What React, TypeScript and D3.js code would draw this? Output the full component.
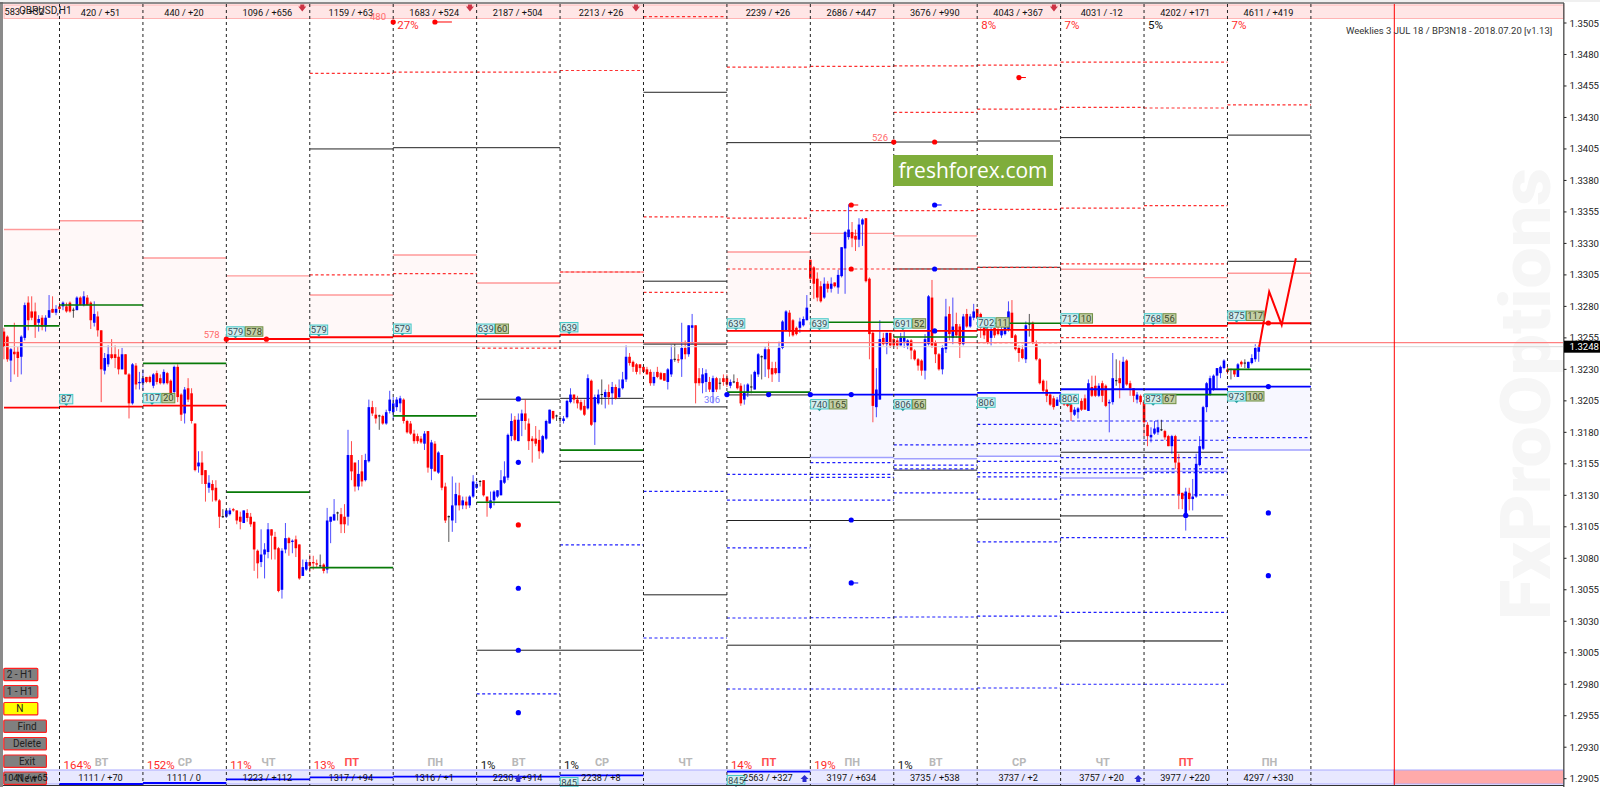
import React from "react";
import * as d3 from "d3";

// Candles per day, [open, high, low, close], price in 1/10000
const day00 = [[13260,13263,13238,13248],[13256,13257,13236,13238],[13237,13247,13220,13246],[13244,13267,13226,13242],[13244,13248,13224,13239],[13240,13257,13226,13256],[13255,13283,13253,13281],[13283,13288,13261,13269],[13276,13288,13269,13271],[13276,13283,13255,13265],[13267,13273,13260,13270],[13271,13273,13261,13264],[13264,13273,13260,13271],[13271,13289,13271,13277],[13278,13288,13275,13275],[13275,13281,13273,13278]];
const day01 = [[13280,13283,13277,13278],[13280,13284,13277,13283],[13280,13283,13275,13276],[13283,13284,13275,13276],[13277,13279,13271,13277],[13277,13288,13277,13287],[13287,13288,13281,13281],[13281,13292,13280,13288],[13287,13289,13281,13281],[13283,13284,13262,13269],[13267,13284,13264,13274],[13272,13276,13256,13261],[13261,13261,13204,13230],[13229,13243,13226,13239],[13234,13249,13232,13242],[13242,13254,13238,13239],[13242,13249,13231,13239],[13240,13246,13226,13230],[13230,13247,13230,13242],[13242,13242,13226,13226],[13226,13227,13191,13203],[13203,13235,13202,13234],[13233,13235,13214,13218],[13219,13228,13214,13220]];
const day02 = [[13219,13230,13213,13223],[13224,13224,13219,13220],[13224,13225,13219,13220],[13217,13227,13215,13226],[13227,13229,13218,13220],[13223,13226,13218,13219],[13219,13230,13218,13228],[13227,13228,13218,13219],[13221,13222,13207,13211],[13212,13233,13211,13232],[13232,13234,13204,13208],[13210,13211,13189,13194],[13195,13216,13187,13214],[13215,13223,13204,13206],[13211,13215,13187,13189],[13187,13187,13149,13150],[13153,13165,13148,13156],[13156,13165,13139,13146],[13150,13150,13125,13139],[13136,13146,13132,13140],[13139,13142,13125,13134],[13136,13142,13125,13126],[13126,13127,13104,13113],[13113,13119,13112,13113]];
const day03 = [[13113,13119,13112,13118],[13115,13120,13114,13118],[13119,13120,13117,13118],[13118,13118,13107,13110],[13113,13117,13103,13109],[13108,13118,13108,13118],[13116,13119,13109,13112],[13113,13116,13105,13107],[13109,13109,13070,13087],[13086,13087,13064,13076],[13077,13103,13073,13083],[13083,13092,13064,13087],[13085,13108,13080,13103],[13103,13103,13079,13098],[13097,13101,13079,13087],[13088,13089,13053,13054],[13055,13088,13048,13086],[13087,13108,13084,13096],[13096,13097,13082,13092],[13093,13095,13084,13094],[13095,13098,13081,13088],[13091,13091,13063,13064],[13066,13079,13066,13073],[13071,13079,13070,13077]];
const day04 = [[13077,13083,13069,13074],[13077,13082,13071,13076],[13076,13079,13073,13075],[13074,13083,13073,13074],[13075,13076,13068,13070],[13071,13120,13068,13110],[13109,13113,13092,13113],[13110,13127,13110,13115],[13116,13117,13110,13116],[13115,13120,13100,13107],[13113,13123,13100,13107],[13113,13182,13106,13162],[13162,13173,13142,13149],[13156,13156,13133,13137],[13137,13158,13134,13147],[13149,13162,13137,13141],[13142,13163,13141,13158],[13157,13206,13156,13200],[13200,13205,13193,13195],[13194,13200,13187,13191],[13193,13194,13182,13193],[13193,13194,13186,13187],[13187,13198,13186,13196],[13197,13213,13195,13206]];
const day05 = [[13196,13208,13190,13203],[13200,13208,13197,13206],[13203,13209,13196,13207],[13206,13207,13187,13189],[13189,13190,13179,13180],[13187,13189,13178,13179],[13179,13182,13171,13173],[13177,13179,13171,13173],[13175,13177,13171,13172],[13171,13181,13166,13179],[13181,13181,13148,13152],[13151,13174,13142,13172],[13171,13173,13149,13149],[13148,13165,13147,13164],[13162,13162,13134,13136],[13137,13140,13108,13110],[13113,13114,13093,13113],[13110,13145,13101,13122],[13122,13140,13108,13131],[13130,13140,13118,13122],[13122,13129,13119,13126],[13125,13129,13119,13122],[13122,13130,13120,13129],[13129,13146,13128,13141]];
const day06 = [[13136,13141,13135,13139],[13141,13142,13137,13141],[13142,13142,13129,13130],[13129,13129,13113,13125],[13120,13133,13119,13126],[13126,13134,13122,13133],[13129,13134,13128,13134],[13130,13150,13130,13142],[13140,13157,13139,13145],[13144,13179,13142,13178],[13177,13195,13173,13189],[13190,13193,13173,13174],[13173,13195,13173,13190],[13189,13198,13177,13195],[13195,13206,13182,13189],[13187,13191,13166,13173],[13175,13177,13156,13173],[13175,13185,13169,13171],[13174,13182,13159,13165],[13164,13178,13163,13177],[13175,13190,13174,13189],[13187,13198,13187,13198],[13197,13197,13190,13191],[13193,13194,13189,13193]];
const day07 = [[13191,13193,13187,13191],[13189,13193,13187,13191],[13192,13206,13191,13205],[13204,13215,13203,13210],[13210,13210,13203,13206],[13206,13209,13199,13203],[13204,13206,13197,13198],[13201,13206,13193,13194],[13199,13226,13198,13223],[13221,13222,13185,13186],[13188,13210,13170,13208],[13203,13214,13202,13210],[13210,13222,13202,13210],[13208,13214,13199,13212],[13212,13218,13202,13208],[13211,13220,13202,13216],[13216,13218,13206,13207],[13208,13222,13207,13215],[13215,13228,13214,13222],[13222,13249,13220,13240],[13240,13243,13233,13235],[13236,13237,13228,13232],[13234,13235,13226,13228],[13234,13234,13226,13231]];
const day08 = [[13232,13232,13227,13228],[13230,13232,13226,13226],[13228,13230,13217,13219],[13219,13228,13217,13224],[13228,13232,13223,13224],[13227,13228,13222,13222],[13227,13227,13221,13221],[13220,13231,13214,13230],[13226,13249,13224,13238],[13238,13250,13236,13238],[13238,13242,13235,13237],[13238,13267,13224,13247],[13247,13253,13238,13242],[13242,13265,13240,13265],[13263,13274,13250,13265],[13265,13265,13203,13219],[13223,13231,13217,13219],[13219,13231,13211,13226],[13220,13230,13212,13227],[13220,13224,13212,13214],[13212,13225,13203,13223],[13223,13224,13212,13214],[13219,13223,13214,13219],[13223,13226,13217,13220]];
const day09 = [[13223,13226,13216,13218],[13217,13222,13215,13220],[13220,13226,13219,13220],[13220,13223,13214,13215],[13217,13219,13201,13203],[13206,13218,13202,13212],[13211,13219,13208,13218],[13216,13226,13211,13216],[13214,13229,13214,13228],[13226,13243,13224,13242],[13240,13241,13222,13240],[13238,13248,13224,13246],[13246,13252,13223,13230],[13231,13236,13220,13226],[13231,13236,13226,13227],[13227,13252,13220,13247],[13247,13269,13246,13268],[13261,13277,13260,13276],[13275,13277,13256,13260],[13269,13270,13256,13257],[13263,13264,13257,13258],[13263,13271,13259,13268],[13265,13272,13264,13270],[13269,13289,13269,13279]];
const day10 = [[13317,13317,13300,13302],[13311,13312,13286,13298],[13302,13307,13284,13287],[13296,13300,13283,13284],[13287,13303,13286,13298],[13298,13300,13291,13294],[13294,13303,13291,13298],[13299,13299,13295,13296],[13295,13309,13290,13305],[13304,13327,13303,13327],[13326,13340,13290,13339],[13335,13361,13333,13341],[13339,13347,13327,13334],[13336,13341,13324,13333],[13333,13350,13327,13345],[13345,13350,13328,13349],[13350,13350,13299,13300],[13302,13303,13238,13258],[13259,13260,13188,13201],[13200,13231,13192,13214],[13206,13269,13206,13254],[13255,13259,13249,13250],[13250,13259,13242,13259],[13259,13259,13247,13249]];
const day11 = [[13254,13257,13248,13249],[13253,13255,13246,13249],[13249,13259,13249,13255],[13252,13260,13247,13255],[13249,13254,13246,13253],[13253,13254,13238,13245],[13245,13246,13237,13238],[13238,13239,13229,13233],[13237,13238,13225,13229],[13229,13258,13222,13254],[13250,13289,13249,13288],[13287,13301,13247,13249],[13251,13253,13235,13242],[13242,13243,13229,13230],[13230,13249,13226,13247],[13246,13286,13243,13272],[13274,13280,13253,13258],[13255,13287,13250,13264],[13266,13275,13255,13257],[13264,13266,13239,13250],[13250,13274,13249,13272],[13274,13278,13263,13264],[13264,13274,13263,13272],[13271,13282,13269,13276]];
const day12 = [[13278,13278,13270,13271],[13274,13275,13255,13263],[13266,13267,13254,13257],[13262,13264,13250,13251],[13255,13268,13249,13262],[13263,13268,13255,13257],[13262,13264,13257,13258],[13257,13266,13255,13262],[13258,13271,13257,13266],[13262,13284,13260,13276],[13275,13285,13255,13255],[13257,13258,13245,13246],[13247,13249,13236,13243],[13246,13249,13238,13239],[13238,13268,13235,13265],[13266,13274,13256,13266],[13267,13268,13250,13251],[13250,13253,13237,13238],[13238,13239,13218,13219],[13221,13222,13212,13213],[13214,13221,13204,13209],[13210,13211,13201,13202],[13207,13209,13198,13200],[13201,13208,13201,13206]];
const day13 = [[13204,13212,13203,13210],[13208,13209,13201,13202],[13206,13208,13200,13201],[13202,13204,13189,13196],[13194,13200,13193,13198],[13196,13200,13191,13199],[13205,13207,13197,13198],[13207,13210,13198,13198],[13197,13222,13197,13219],[13216,13225,13208,13209],[13217,13225,13208,13209],[13209,13219,13208,13217],[13219,13221,13204,13209],[13217,13218,13200,13201],[13203,13206,13180,13204],[13204,13243,13202,13223],[13221,13238,13217,13221],[13223,13237,13207,13219],[13215,13240,13214,13236],[13237,13238,13217,13218],[13219,13221,13209,13215],[13215,13215,13204,13209],[13206,13212,13203,13210],[13209,13210,13202,13204]];
const day14 = [[13204,13205,13177,13188],[13186,13188,13169,13177],[13176,13184,13172,13178],[13179,13189,13178,13183],[13180,13190,13178,13184],[13182,13190,13181,13182],[13181,13182,13174,13176],[13177,13178,13169,13169],[13169,13178,13163,13177],[13177,13178,13151,13156],[13156,13163,13119,13131],[13132,13132,13119,13127],[13115,13136,13102,13133],[13132,13136,13118,13127],[13127,13143,13118,13129],[13129,13163,13128,13155],[13154,13177,13153,13169],[13167,13201,13166,13200],[13200,13220,13196,13219],[13210,13225,13209,13223],[13214,13226,13213,13225],[13225,13231,13215,13231],[13227,13233,13223,13232],[13231,13238,13230,13237]];
const day15 = [[13230,13232,13226,13228],[13230,13230,13222,13230],[13230,13230,13224,13226],[13224,13235,13224,13234],[13236,13237,13232,13234],[13235,13238,13231,13235],[13231,13236,13230,13236],[13235,13242,13234,13239],[13238,13250,13236,13247],[13244,13249,13236,13248]];

// Levels per day: [day, price]
const salmonLevels = [[0,13341],[1,13348],[2,13318.4],[3,13304.2],[4,13289],[5,13320.8],[6,13298.6],[7,13307.3],[9,13323.2],[10,13338],[11,13336],[13,13309.5],[14,13302.8],[15,13306.3]];
const redLevels = [[0,13199.6],[1,13200.4],[2,13201.2],[3,13254.1],[4,13255.5],[5,13256.3],[6,13256.3],[7,13257.5],[9,13260.5],[10,13260.5],[11,13260.5],[12,13261.3],[13,13264.5],[14,13264.5],[15,13266.6]];
const greenLevels = [[0,13264.5],[1,13281.1],[2,13234.8],[3,13132.6],[4,13072.6],[5,13193],[6,13124.5],[7,13165.8],[9,13212],[10,13267.4],[11,13255.7],[12,13266.6],[14,13210],[15,13230]];
const blueLevels = [[10,13210],[11,13210],[12,13211.3],[13,13214.2],[14,13214.2],[15,13216.3]];
const lightBlueLevels = [[10,13160],[11,13159],[12,13161],[13,13143.8],[14,13149],[15,13166]];
const blackLevels = [[4,13405],[5,13406],[6,13406],[6,13206.3],[6,13007],[7,13207],[7,13157],[7,13007],[8,13450],[8,13300],[8,13250],[8,13200.2],[8,13051],[9,13410],[9,13209.7],[9,13160],[9,13110],[9,13011],[10,13410],[10,13110],[10,13011],[11,13410.5],[11,13309.7],[11,13150],[11,13110.4],[11,13011.2],[12,13411.3],[12,13311],[12,13111],[12,13011],[13,13414],[13,13164.2],[13,13113.8],[13,13014.4],[14,13414],[14,13164.2],[14,13113.8],[14,13014.4],[15,13416],[15,13315.8]];
const dashedRedLevels = [[4,13465],[4,13305],[5,13466],[5,13306],[6,13466],[6,13246.8],[7,13467.3],[7,13307.3],[8,13510],[8,13351],[8,13291.2],[9,13470],[9,13350],[9,13309.7],[10,13470.6],[10,13356],[10,13309.7],[11,13471],[11,13434],[11,13356],[11,13309.7],[12,13471.5],[12,13436.6],[12,13357],[12,13311],[12,13251.2],[13,13474],[13,13438],[13,13358],[13,13313.7],[13,13255.2],[14,13474],[14,13437.5],[14,13360],[14,13313.7],[14,13255.2],[15,13440]];
const dashedBlueLevels = [[6,12972.3],[7,13090.6],[8,13133.2],[8,13016.7],[9,13146.7],[9,13126.1],[9,13088.2],[9,13032.6],[9,12976.2],[10,13155.9],[10,13146.7],[10,13144.3],[10,13126.1],[10,13032.8],[10,12976.2],[11,13170],[11,13154],[11,13151],[11,13132],[11,13033.4],[11,12976.2],[12,13186.4],[12,13171],[12,13157],[12,13148],[12,13144.6],[12,13127],[12,13093],[12,13034],[12,12977],[13,13189],[13,13173.7],[13,13160],[13,13151],[13,13148],[13,13130.3],[13,13096.4],[13,13037.1],[13,12980],[14,13189],[14,13173.7],[14,13160],[14,13151],[14,13148],[14,13130.3],[14,13096.4],[14,13037.1],[14,12980],[15,13175.8]];
const grayLevelsThick = [[8,13250],[13,13113.8],[14,13113.8],[13,13014.4],[14,13014.4]];

const pinkBands = [[0,13341,13199.6],[1,13348,13200.4],[2,13318.4,13201.2],[3,13304.2,13254.1],[4,13289,13255.5],[5,13320.8,13256.3],[6,13298.6,13256.3],[7,13307.3,13257.5],[9,13323.2,13260.5],[10,13338,13260.5],[11,13336,13260.5],[12,13311,13261.3],[13,13309.5,13264.5],[14,13302.8,13264.5],[15,13306.3,13266.6]];
const blueBands = [[10,13210,13160],[11,13210,13159],[12,13211.3,13161],[13,13214.2,13143.8],[14,13214.2,13149],[15,13216.3,13166]];

// Dots: [day position, price, colour key, has tail]
const dots = [[3,13254,"r",0],[3.48,13254,"r",0],[5,13505.8,"r",0],[5.5,13505.8,"r",1],[6.5,13206.5,"b",0],[6.5,13156.2,"b",0],[6.5,13106.5,"r",0],[6.5,13056.2,"b",0],[6.5,13007,"b",0],[6.5,12957.4,"b",0],[9,13210,"b",0],[9.5,13210,"b",0],[10,13210,"b",0],[10.49,13210,"b",0],[10.49,13360.5,"r",1],[10.49,13309.7,"r",0],[10.49,13110.4,"b",0],[10.49,13060.4,"b",1],[11,13410.5,"r",0],[11.49,13410.5,"r",0],[11.49,13360.5,"b",1],[11.49,13309.7,"b",0],[11.49,13260.5,"b",0],[12.5,13461.7,"r",1],[14.5,13114,"b",0],[15.49,13266.8,"r",0],[15.49,13216.3,"b",0],[15.49,13116,"b",0],[15.49,13066.2,"b",0]];

const zigzagDays = [15.38,15.5,15.65,15.82];
const zigzagPrices = [13247.8,13291.7,13265.3,13318.2];

const topLabels = ["583 / +32","420 / +51","440 / +20","1096 / +656","1159 / +63","1683 / +524","2187 / +504","2213 / +26","","2239 / +26","2686 / +447","3676 / +990","4043 / +367","4031 / -12","4202 / +171","4611 / +419"];
const bottomLabels = ["1041 / +65","1111 / +70","1111 / 0","1223 / +112","1317 / +94","1316 / +1","2230 / +914","2238 / +8","","2563 / +327","3197 / +634","3735 / +538","3737 / +2","3757 / +20","3977 / +220","4297 / +330"];
const weekdays = ["","ВТ","СР","ЧТ","ПТ","ПН","ВТ","СР","ЧТ","ПТ","ПН","ВТ","СР","ЧТ","ПТ","ПН"];
const bottomPercents = [[1,"164%","r"],[2,"152%","r"],[3,"11%","r"],[4,"13%","r"],[6,"1%","k"],[7,"1%","k"],[9,"14%","r"],[10,"19%","r"],[11,"1%","k"]];
const topPercents = [[5,"27%","r"],[12,"8%","r"],[13,"7%","r"],[14,"5%","k"],[15,"7%","r"]];
const upperTags = [[1,"87",""],[2,"107","20"],[3,"579","578"],[4,"579",""],[5,"579",""],[6,"639","60"],[7,"639",""],[9,"639",""],[10,"639",""],[11,"691","52"],[12,"702","11"],[13,"712","10"],[14,"768","56"],[15,"875","117"]];
const lowerTags = [[10,"740","165"],[11,"806","66"],[12,"806",""],[13,"806",""],[14,"873","67"],[15,"973","100"]];
const bottomBlue = [[1,784],[2,783],[3,779.3],[4,777.3],[5,776.7],[6,776.7],[7,775.3],[9,771.7]];
const priceTicks = [13505,13480,13455,13430,13405,13380,13355,13330,13305,13280,13255,13230,13205,13180,13155,13130,13105,13080,13055,13030,13005,12980,12955,12930,12905];
const topDiamonds = [3.91,5.92,7.91,12.92];
const bottomDiamonds = [9.93,13.93,6.5];
const buttons = [["2 - H1",668.3,34,"#808080"],["1 - H1",685.5,34,"#808080"],["N",702.5,34,"#ffff00"],["Find",720,42.6,"#808080"],["Delete",737.5,42.6,"#808080"],["Exit",755,42.6,"#808080"],["New",772,42.6,"#808080"]];

const allDays = [day00,day01,day02,day03,day04,day05,day06,day07,day08,day09,day10,day11,day12,day13,day14,day15];

const W = 1600, H = 787;
const y = d3.scaleLinear().domain([13505, 12905]).range([23, 778.7]);
const xDay = d3.scaleLinear().domain([1, 16]).range([59.5, 1310.9]);
const barStep = 3.475;
const FONT = "Roboto, 'Liberation Sans', sans-serif";
const RED = "#ff0000", BLUE = "#0000ff";
const clr = (k: string) => (k === "r" ? "#ff2a2a" : "#111");

function span(d: number): [number, number] {
  return d === 0 ? [4, xDay(1)] : [xDay(d), xDay(d + 1)];
}

function Levels({ data, ...p }: any) {
  return (
    <g {...p}>
      {data.map(([d, v]: number[], i: number) => {
        const [a, b0] = span(d);
        const b = d === 14 && (p.stroke === "#222" || p.stroke === "#777") && v < 13170 ? 1223 : b0;
        return <line key={i} x1={a} x2={b} y1={y(v)} y2={y(v)} />;
      })}
    </g>
  );
}

function Tag({ d, a, b, top }: any) {
  const x0 = xDay(d) + 0.3;
  const w1 = a.length > 2 ? 17.6 : 13;
  const w2 = b.length > 2 ? 17.6 : 13;
  return (
    <g fontFamily={FONT} fontSize={9.5} textAnchor="middle">
      <rect x={x0} y={top} width={w1} height={9.4} fill="#d3eeee" stroke="#45c8c8" strokeWidth={1} />
      <path d={`M${x0 + w1 / 2 - 2} ${top + 9.4} h4 l-2 2.2 z`} fill="#2aa0a0" />
      <text x={x0 + w1 / 2} y={top + 8} fill="#37505a">{a}</text>
      {b && <rect x={x0 + w1 + 1} y={top} width={w2} height={9.4} fill="#c4cfa6" stroke="#6f8f45" strokeWidth={1} />}
      {b && <text x={x0 + w1 + 1 + w2 / 2} y={top + 8} fill="#3d4a2a">{b}</text>}
    </g>
  );
}

export default function App() {
  const zig = d3.line<number>().x((d) => xDay(d)).y((_, i) => y(zigzagPrices[i]));
  return (
    <svg width={W} height={H} viewBox={`0 0 ${W} ${H}`} style={{ position: "fixed", left: 0, top: 0, background: "#fff" }}>
      <text transform="translate(1550,620) rotate(-90)" fontFamily="Roboto, sans-serif" fontWeight={900} fontSize={70} fill="#f6f6f6" textLength={452} lengthAdjust="spacingAndGlyphs">FxProOptions</text>

      {pinkBands.map(([d, a, b], i) => {
        const [x1, x2] = span(d);
        return <rect key={i} x={x1} width={x2 - x1} y={y(a)} height={y(b) - y(a)} fill="#fff8f8" />;
      })}
      {blueBands.map(([d, a, b], i) => {
        const [x1, x2] = span(d);
        return <rect key={i} x={x1} width={x2 - x1} y={y(a)} height={y(b) - y(a)} fill="#f7f7ff" />;
      })}

      <rect x={4} y={5} width={1559.7} height={13.5} fill="#ffe6e6" stroke="#ffb4b4" strokeWidth={1} />
      <rect x={4} y={770} width={1390} height={14} fill="#e8e8ff" stroke="#aaaaff" strokeWidth={1} />
      <rect x={1394} y={770} width={169.7} height={14} fill="#ffaaaa" stroke="#aaaaff" strokeWidth={1} />

      <Levels data={salmonLevels} stroke="#ff9a9a" strokeWidth={1.4} />
      <Levels data={blackLevels} stroke="#222" strokeWidth={1} />
      <Levels data={grayLevelsThick} stroke="#777" strokeWidth={1.6} />
      <Levels data={dashedRedLevels} stroke="#ff3030" strokeWidth={1.2} strokeDasharray="3 2.5" />
      <Levels data={dashedBlueLevels} stroke="#2020ff" strokeWidth={1.2} strokeDasharray="3 2.5" />
      <Levels data={lightBlueLevels} stroke="#a0a0ff" strokeWidth={1.4} />

      {allDays.flatMap((bars, d) =>
        bars.map(([o, h, l, c], j) => {
          const x = d === 0 ? xDay(1) - (16 - j) * barStep : xDay(d) + j * barStep;
          const col = c > o ? BLUE : c < o ? RED : "#111";
          const t = y(Math.max(o, c));
          const b = y(Math.min(o, c));
          return (
            <g key={`${d}-${j}`}>
              <line x1={x} x2={x} y1={y(h)} y2={y(l)} stroke={col} strokeWidth={1} strokeOpacity={0.7} />
              {c === o ? (
                <line x1={x - 1.2} x2={x + 1.2} y1={t} y2={t} stroke={col} strokeWidth={1} />
              ) : (
                <rect x={x - 1.3} y={t} width={2.6} height={Math.max(b - t, 1.2)} fill={col} />
              )}
            </g>
          );
        })
      )}

      <Levels data={redLevels} stroke={RED} strokeWidth={1.8} />
      <Levels data={greenLevels} stroke="#087a08" strokeWidth={1.7} />
      <Levels data={blueLevels} stroke={BLUE} strokeWidth={1.8} />

      {/* current price lines */}
      <line x1={4} x2={1563} y1={y(13251.2)} y2={y(13251.2)} stroke="#ff8080" strokeWidth={1.4} />
      <line x1={4} x2={1563} y1={y(13248)} y2={y(13248)} stroke="#d8d8d8" strokeWidth={1} />

      {d3.range(1, 17).map((d) => (
        <line key={d} x1={xDay(d)} x2={xDay(d)} y1={4} y2={785} stroke="#222" strokeWidth={1} strokeDasharray="3 3" />
      ))}
      <line x1={1394.3} x2={1394.3} y1={4} y2={785} stroke={RED} strokeWidth={1} />

      {bottomBlue.map(([d, yy], i) => {
        const [x1, x2] = span(d);
        return <line key={i} x1={x1} x2={x2} y1={yy} y2={yy} stroke={BLUE} strokeWidth={1.8} />;
      })}

      <path d={zig(zigzagDays) as string} fill="none" stroke={RED} strokeWidth={2} />

      {dots.map(([d, p, k, tail]: any, i) => {
        const col = k === "r" ? RED : BLUE;
        return (
          <g key={i}>
            {tail ? <line x1={xDay(d)} x2={xDay(d) + (p > 13500 ? 17 : 7)} y1={y(p)} y2={y(p)} stroke={col} strokeWidth={1} /> : null}
            <circle cx={xDay(d)} cy={y(p)} r={2.6} fill={col} />
          </g>
        );
      })}

      {upperTags.map(([d, a, b]: any, i) => {
        const lv = redLevels.find((r) => r[0] === d)!;
        return <Tag key={i} d={d} a={a} b={b} top={y(lv[1]) - 12.2} />;
      })}
      {lowerTags.map(([d, a, b]: any, i) => {
        const lv = blueLevels.find((r) => r[0] === d)!;
        return <Tag key={i} d={d} a={a} b={b} top={y(lv[1]) + 5} />;
      })}
      {[9, 7].map((d) => <Tag key={d} d={d} a="845" b="" top={d === 9 ? 775.5 : 777.5} />)}

      <g fontFamily={FONT} fontSize={9.2} fill="#111" textAnchor="middle">
        {topLabels.map((t, d) => (d === 0 ? <text key={d} x={4.5} y={15} textAnchor="start">{t}</text> : t && <text key={d} x={xDay(d) + 41} y={15.5}>{t}</text>))}
        {bottomLabels.map((t, d) => (d === 0 ? null : t && <text key={d} x={xDay(d) + 41} y={780.5}>{t}</text>))}
      </g>
      <text x={19} y={13.5} fontFamily={FONT} fontSize={10} fill="#222">GBPUSD,H1</text>

      <g fontFamily={FONT} fontSize={11} fontWeight={700} textAnchor="middle">
        {weekdays.map((t, d) => t && (
          <text key={d} x={xDay(d) + 42} y={766} fill={t === "ПТ" ? "#ff5050" : "#b8b8b8"}>{t}</text>
        ))}
      </g>
      <g fontFamily={FONT} fontSize={11.5}>
        {bottomPercents.map(([d, t, k]: any) => <text key={d} x={xDay(d) + 4} y={769} fill={clr(k)}>{t}</text>)}
        {topPercents.map(([d, t, k]: any) => <text key={d} x={xDay(d) + 4} y={29} fill={clr(k)}>{t}</text>)}
      </g>
      <g fontFamily={FONT} fontSize={9.5} textAnchor="middle" fill="#ff6a6a">
        <text x={378} y={20}>480</text>
        <text x={211.7} y={338}>578</text>
        <text x={880} y={141}>526</text>
        <text x={712} y={403} fill="#7878ff">306</text>
      </g>
      {topDiamonds.map((d, i) => (
        <path key={i} d={`M${xDay(d) - 4} 6.5 h8 l-4 5 z M${xDay(d) - 2} 4.5 h4 v2 h-4 z`} fill="#cc3344" />
      ))}
      {bottomDiamonds.map((d, i) => (
        <path key={i} d={`M${xDay(d)} ${775} l4 4 h-2 v3 h-4 v-3 h-2 z`} fill="#2a2ad0" />
      ))}

      <text x={1346} y={34} fontFamily={FONT} fontSize={9.5} fill="#333">Weeklies 3 JUL 18 / BP3N18 - 2018.07.20 [v1.13]</text>

      <rect x={893} y={155} width={160} height={31} fill="#7fad3b" />
      <text x={973} y={177.5} textAnchor="middle" fontFamily="'Open Sans', sans-serif" fontSize={21} fill="#fff">freshforex.com</text>

      {buttons.map(([t, yy, w, f]: any, i) => (
        <g key={i}>
          <rect x={3.8} y={yy} width={w} height={12.4} rx={1} fill={f} stroke="#ff2020" strokeWidth={1.2} />
          <text x={3.8 + w / 2 + (w > 40 ? 2 : -1)} y={yy + 9.8} textAnchor="middle" fontFamily={FONT} fontSize={10} fill="#222">{t}</text>
        </g>
      ))}
      <text x={3} y={781} fontFamily={FONT} fontSize={9.2} fill="#111">{bottomLabels[0]}</text>

      {/* frame */}
      <rect x={0} y={0} width={1600} height={2} fill="#f0f0f0" />
      <rect x={0} y={2} width={3} height={785} fill="#8a8a8a" />
      <line x1={0} x2={1564} y1={3} y2={3} stroke="#666" strokeWidth={1.4} />
      <line x1={1563.8} x2={1563.8} y1={3} y2={787} stroke="#555" strokeWidth={1.4} />
      <line x1={3} x2={1564} y1={785.5} y2={785.5} stroke="#333" strokeWidth={1.2} />

      {priceTicks.map((p) => (
        <g key={p}>
          <line x1={1564} x2={1566.5} y1={y(p)} y2={y(p)} stroke="#222" />
          <text x={1569.5} y={y(p) + 3.5} fontFamily={FONT} fontSize={9.6} fill="#222">{(p / 10000).toFixed(4)}</text>
        </g>
      ))}
      <rect x={1564} y={y(13248) - 6} width={36} height={12} fill="#000" />
      <text x={1569.5} y={y(13248) + 3.5} fontFamily={FONT} fontSize={9.6} fill="#fff">1.3248</text>
    </svg>
  );
}
